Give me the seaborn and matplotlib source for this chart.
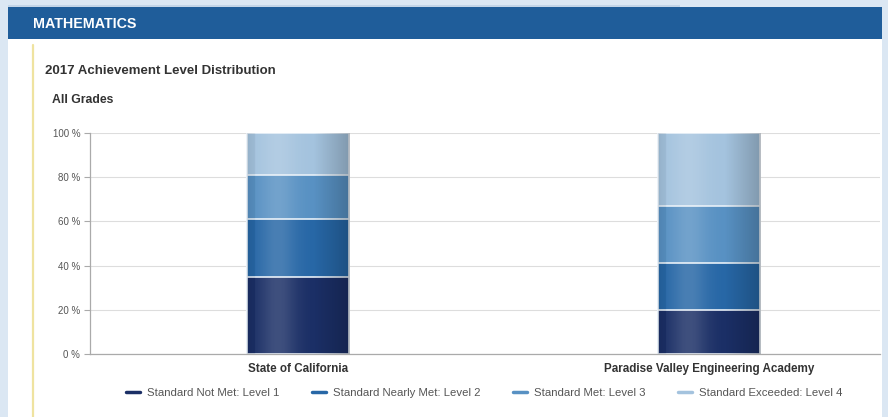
import numpy as np
import pandas as pd
import matplotlib
matplotlib.use("Agg")
import matplotlib.pyplot as plt
from matplotlib.patches import Rectangle
from matplotlib.lines import Line2D
import seaborn as sns

# Achievement level shares (percent of students)
schools = ["State of California", "Paradise Valley Engineering Academy"]
levels = ["Standard Not Met: Level 1", "Standard Nearly Met: Level 2",
          "Standard Met: Level 3", "Standard Exceeded: Level 4"]
level1 = [35, 20]
level2 = [26, 21]
level3 = [20, 26]
level4 = [19, 33]
yticks = [0, 20, 40, 60, 80, 100]
ytick_labels = ["0 %", "20 %", "40 %", "60 %", "80 %", "100 %"]

colors = ["#1b2f66", "#2767a6", "#5891c3", "#a4c3de"]

sns.set_theme(style="white")
plt.rcParams["font.family"] = ["Liberation Sans", "DejaVu Sans"]

W, H = 888, 417
fig = plt.figure(figsize=(W / 100, H / 100), dpi=100)
fig.patch.set_facecolor("#dbe7f3")

def px(x0, y0, w, h):
    return [x0 / W, 1 - (y0 + h) / H, w / W, h / H]

# white panel, header band and accent rule
bg = fig.add_axes([0, 0, 1, 1], zorder=-10)
bg.set_xlim(0, W)
bg.set_ylim(H, 0)
bg.axis("off")
bg.add_patch(Rectangle((8, 7), 874, 412, facecolor="white", edgecolor="none"))
bg.add_patch(Rectangle((8, 7), 874, 32, facecolor="#1f5d9a", edgecolor="none"))
bg.add_patch(Rectangle((8, 5), 672, 2, facecolor="#c3d5e8", edgecolor="none"))
bg.plot([33, 33], [45, 417], color="#efe3a0", lw=1.6)
bg.text(33, 24, "MATHEMATICS", color="white", fontsize=10.3, fontweight="bold",
        va="center", ha="left")
bg.text(45, 71, "2017 Achievement Level Distribution", color="#333333",
        fontsize=9.5, fontweight="bold", va="center", ha="left")
bg.text(52, 100, "All Grades", color="#333333", fontsize=8.8,
        fontweight="bold", va="center", ha="left")

# chart area
ax = fig.add_axes(px(90, 133, 790, 221))
cum = np.cumsum(np.array([level1, level2, level3, level4]), axis=0)

# stacked bars: draw cumulative totals from the top segment down
for i in range(3, -1, -1):
    d = pd.DataFrame({"school": schools, "value": cum[i]})
    sns.barplot(data=d, x="school", y="value", color=colors[i], width=0.25,
                edgecolor="#e8f0f8", linewidth=1.2, ax=ax, zorder=2,
                saturation=1)

# soft cylindrical shading on each column
xs = np.linspace(0, 1, 200)
shade = np.zeros((1, 200, 4))
hi = np.exp(-((xs - 0.3) / 0.18) ** 2)
edge = np.clip((np.abs(xs - 0.4) - 0.25) / 0.35, 0, 1)
shade[0, :, :3] = np.where(hi[:, None] > edge[:, None], 1.0, 0.0)
shade[0, :, 3] = np.maximum(hi * 0.16, edge * 0.22)
for j in range(len(schools)):
    x0 = j - 0.125
    clip = Rectangle((x0, 0), 0.25, cum[3][j], transform=ax.transData)
    im = ax.imshow(shade, extent=(x0, x0 + 0.25, 0, cum[3][j]),
                   aspect="auto", zorder=3, interpolation="bilinear")
    im.set_clip_path(clip)

ax.set_xlim(-0.506, 1.416)
ax.set_ylim(0, 100)
ax.set_yticks(yticks)
ax.set_yticklabels(ytick_labels)
ax.grid(axis="y", color="#dddddd", lw=0.8, zorder=0)
ax.set_axisbelow(True)
ax.set_xlabel("")
ax.set_ylabel("")
for s in ["top", "right"]:
    ax.spines[s].set_visible(False)
for s in ["left", "bottom"]:
    ax.spines[s].set_color("#aaaaaa")
    ax.spines[s].set_linewidth(0.9)
ax.tick_params(axis="y", length=4, width=0.8, color="#aaaaaa",
               labelsize=7, labelcolor="#555555", pad=3, left=True)
ax.tick_params(axis="x", length=0, labelsize=8.4, labelcolor="#333333", pad=6.5)
for t in ax.get_xticklabels():
    t.set_fontweight("bold")
ax.patch.set_alpha(0)

handles = [Line2D([0], [0], color=c, lw=2.5) for c in colors]
fig.legend(handles, levels, loc="center left",
           bbox_to_anchor=(116 / W, 1 - 393 / H), ncol=4, frameon=False,
           fontsize=8.2, handlelength=1.2, handletextpad=0.6,
           columnspacing=2.9, labelcolor="#555555")

fig.savefig("out.png", dpi=100, facecolor=fig.get_facecolor())
